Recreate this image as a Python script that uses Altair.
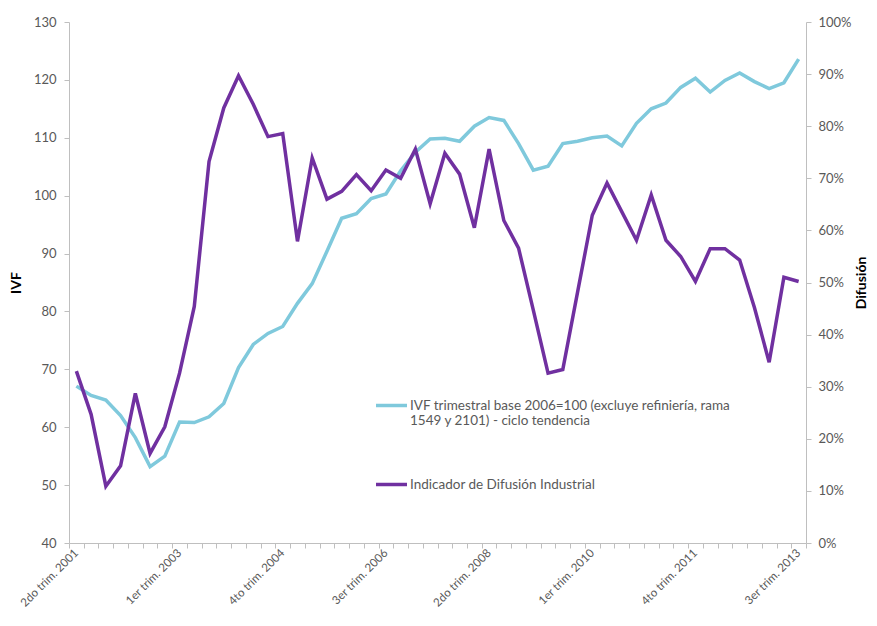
import altair as alt
import pandas as pd

# ---- data -------------------------------------------------------------
ordinales = ["1er", "2do", "3er", "4to"]
trimestres = [f"{o} trim. {a}" for a in range(2001, 2014) for o in ordinales][1:51]

ivf = [67.1, 65.5, 64.7, 62.0, 58.2, 53.2, 55.0, 60.9, 60.8, 61.8,
       64.1, 70.3, 74.3, 76.2, 77.4, 81.4, 84.8, 90.4, 96.1, 96.9,
       99.5, 100.3, 104.3, 107.5, 109.8, 109.9, 109.4, 112.0, 113.5, 113.0,
       109.0, 104.4, 105.1, 109.0, 109.4, 110.0, 110.3, 108.6, 112.5, 115.0,
       116.0, 118.7, 120.3, 117.9, 119.9, 121.2, 119.7, 118.5, 119.5, 123.6]

difusion = [33.0, 24.7, 10.9, 14.8, 28.7, 17.2, 22.3, 32.6, 45.4, 73.2,
            83.5, 89.7, 84.2, 78.0, 78.6, 57.9, 73.9, 66.0, 67.5, 70.7,
            67.6, 71.6, 70.0, 75.6, 65.1, 74.8, 70.8, 60.5, 75.6, 61.9,
            56.6, 44.7, 32.6, 33.3, 48.1, 62.9, 69.1, 63.6, 58.1, 66.8,
            58.1, 55.0, 50.2, 56.5, 56.5, 54.3, 45.2, 34.7, 51.0, 50.2]

etiquetas_x = trimestres[::7]

serie_ivf = "IVF trimestral base 2006=100 (excluye refiniería, rama|1549 y 2101) - ciclo tendencia"
serie_dif = "Indicador de Difusión Industrial"
series = [serie_ivf, serie_dif]
colores = ["#7FC9DC", "#7030A0"]

df = pd.concat([
    pd.DataFrame({"q": trimestres, "valor": ivf, "serie": serie_ivf}),
    pd.DataFrame({"q": trimestres, "valor": [v / 100 for v in difusion], "serie": serie_dif}),
])

FONT = "Lato"
GRIS = "#BFBFBF"
TXT = "#595959"

lista = "[" + ",".join("'" + t + "'" for t in etiquetas_x) + "]"

x = alt.X(
    "q:N", sort=trimestres, bandPosition=0.5,
    scale=alt.Scale(type="band", paddingInner=0, paddingOuter=0),
    axis=alt.Axis(
        title=None, tickBand="extent", labelAngle=-45, labelAlign="right",
        labelBaseline="middle", labelOverlap=False, labelPadding=3,
        labelExpr=f"indexof({lista}, datum.value) >= 0 ? datum.value : ''",
        domainColor=GRIS, tickColor=GRIS, tickSize=5, labelColor=TXT,
        labelFontSize=11.6, labelFont=FONT,
    ),
)

color = alt.Color(
    "serie:N",
    scale=alt.Scale(domain=series, range=colores),
    legend=alt.Legend(
        title=None, orient="none", legendX=305, legendY=366,
        symbolType="stroke", symbolSize=961, symbolStrokeWidth=3.5,
        labelExpr="split(datum.label, '|')", labelFontSize=13.5, labelFont=FONT,
        labelColor=TXT, labelLimit=600, rowPadding=39, labelOffset=1,
    ),
)

base = alt.Chart(df)

izq = base.transform_filter(alt.datum.serie == serie_ivf).mark_line(strokeWidth=3.5).encode(
    x=x,
    y=alt.Y("valor:Q",
            scale=alt.Scale(domain=[40, 130], nice=False, zero=False),
            axis=alt.Axis(title="IVF", values=list(range(40, 131, 10)), grid=False,
                          domainColor=GRIS, tickColor=GRIS, tickSize=5, labelPadding=8,
                          labelColor=TXT, labelFontSize=13, labelFont=FONT,
                          titleFont=FONT, titleFontSize=14, titleFontWeight="bold",
                          titleColor="#000000", titlePadding=10)),
    color=color,
)

der = base.transform_filter(alt.datum.serie == serie_dif).mark_line(strokeWidth=3.5).encode(
    x=x,
    y=alt.Y("valor:Q",
            scale=alt.Scale(domain=[0, 1], nice=False),
            axis=alt.Axis(title="Difusión", orient="right", format=".0%",
                          values=[i / 10 for i in range(11)], grid=False,
                          domainColor=GRIS, tickColor=GRIS, tickSize=5, labelPadding=7,
                          labelColor=TXT, labelFontSize=13, labelFont=FONT,
                          titleFont=FONT, titleFontSize=14, titleFontWeight="bold",
                          titleColor="#000000", titlePadding=3,
                          titleAngle=270, titleBaseline="top")),
    color=color,
)

chart = alt.layer(izq, der).resolve_scale(y="independent").properties(
    width=737, height=521,
    autosize=alt.AutoSizeParams(type="none"),
    padding={"left": 61, "top": 14, "right": 63, "bottom": 69},
    background="white",
).configure_view(stroke=None)

chart.save("out.html", embed_options={"renderer": "svg", "actions": False})
